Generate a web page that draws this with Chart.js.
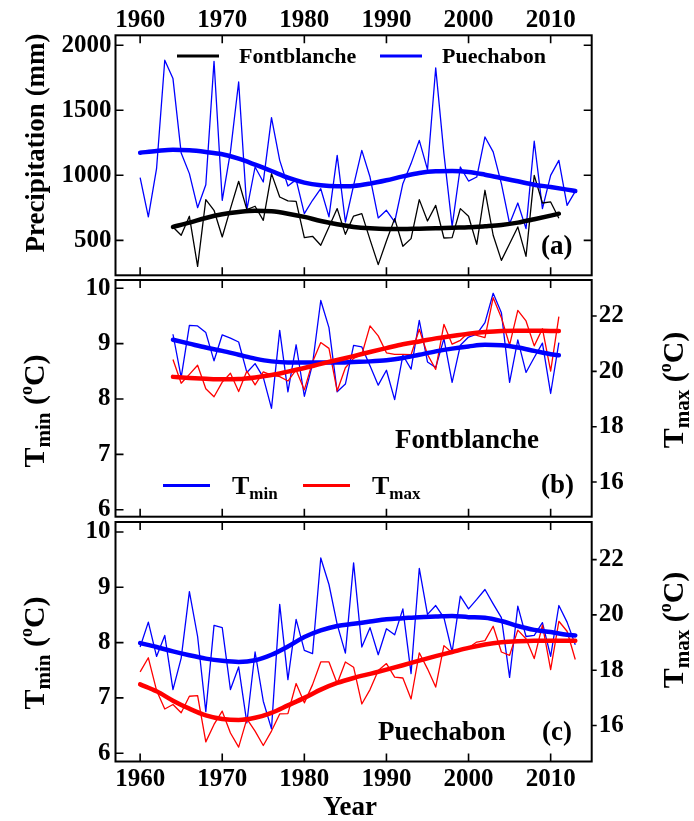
<!DOCTYPE html>
<html>
<head>
<meta charset="utf-8">
<script src="https://cdn.jsdelivr.net/npm/chart.js@4.4.0/dist/chart.umd.min.js"></script>
<style>
  body { margin: 0; background: #fff; }
  #wrap { position: relative; width: 694px; height: 821px; }
  canvas { position: absolute; left: 0; }
</style>
</head>
<body>
<div id="wrap">
  <canvas id="ca" width="694" height="278" style="top:0px"></canvas>
  <canvas id="cb" width="694" height="242" style="top:278px"></canvas>
  <canvas id="cc" width="694" height="301" style="top:520px"></canvas>
</div>
<script>
// axis ticks
const yearTicks = [1960, 1970, 1980, 1990, 2000, 2010];
const precipTicks = [500, 1000, 1500, 2000];
const tminTicks = [6, 7, 8, 9, 10];
const tmaxTicks = [16, 18, 20, 22];

// (a) annual precipitation, mm
const pueStart = 1960;   // Puechabon 1960-2013
const fontStart = 1964;  // Fontblanche 1964-2011
const precipPue = [982, 680, 1051, 1885, 1744, 1172, 1013, 751, 928, 1877,
  808, 1180, 1718, 736, 1064, 949, 1444, 1115, 918, 967,
  705, 808, 897, 680, 1154, 641, 923, 1192, 987, 672,
  731, 641, 936, 1090, 1269, 1044, 1826, 1167, 608, 1064,
  956, 987, 1295, 1180, 936, 628, 787, 590, 1262, 744,
  1000, 1115, 769, 877];
const precipFont = [603, 539, 685, 300, 813, 731,
  526, 744, 954, 736, 762, 654, 1013, 833, 803, 800,
  521, 531, 462, 603, 744, 546, 687, 705, 505, 313,
  495, 667, 454, 513, 813, 649, 769, 518, 521, 744,
  685, 469, 885, 539, 346, 474, 603, 377, 1000, 787,
  795, 670];

// smoothed curves (read every 2 years)
const smoothPueYears = [1960, 1962, 1964, 1966, 1968, 1970, 1972, 1974, 1976, 1978,
  1980, 1982, 1984, 1986, 1988, 1990, 1992, 1994, 1996, 1998,
  2000, 2002, 2004, 2006, 2008, 2010, 2012, 2013];
const smoothFontYears = [1964, 1966, 1968, 1970, 1972, 1974, 1976, 1978,
  1980, 1982, 1984, 1986, 1988, 1990, 1992, 1994, 1996, 1998,
  2000, 2002, 2004, 2006, 2008, 2010, 2011];
const precipPueSmooth = [1174, 1187, 1197, 1192, 1179, 1162, 1128, 1082, 1033, 982,
  944, 923, 915, 918, 936, 962, 992, 1018, 1031, 1033,
  1026, 1005, 980, 954, 928, 910, 890, 879];
const precipFontSmooth = [603, 636, 672, 700, 718, 728, 723, 705,
  680, 649, 623, 603, 592, 587, 587, 590, 592, 597,
  600, 608, 618, 636, 662, 690, 705];

// (b) Fontblanche temperatures, degC
const tminFont = [9.17, 8.39, 9.33, 9.32, 9.20, 8.69,
  9.16, 9.10, 9.03, 8.48, 8.64, 8.39, 7.83, 9.24, 8.13, 8.98,
  8.05, 8.63, 9.78, 9.29, 8.13, 8.27, 8.97, 8.94, 8.60, 8.25,
  8.52, 7.99, 8.79, 8.54, 9.42, 8.67, 8.57, 9.09, 8.30, 8.97,
  9.12, 9.17, 9.38, 9.91, 9.56, 8.30, 9.07, 8.48, 8.75, 9.01,
  8.10, 9.02];
const tmaxFont = [20.43, 19.57, 19.89, 20.22, 19.37, 19.08,
  19.61, 19.93, 19.27, 20.01, 19.51, 19.98, 19.86, 19.81, 19.65, 20.05,
  19.33, 20.34, 21.04, 20.83, 19.29, 20.13, 20.47, 20.61, 21.64, 21.28,
  20.67, 20.61, 20.61, 20.60, 21.52, 20.61, 20.07, 21.70, 20.98, 21.12,
  21.40, 21.30, 21.22, 22.66, 21.94, 20.95, 22.20, 21.82, 20.92, 21.54,
  20.01, 21.98];
const tminFontSmooth = [9.07, 9.00, 8.93, 8.87, 8.80, 8.73, 8.68, 8.66,
  8.66, 8.66, 8.66, 8.67, 8.68, 8.70, 8.74, 8.80, 8.86, 8.91,
  8.95, 8.98, 8.97, 8.93, 8.87, 8.81, 8.79];
const tmaxFontSmooth = [19.80, 19.76, 19.73, 19.71, 19.72, 19.78, 19.87, 19.99,
  20.12, 20.27, 20.41, 20.55, 20.70, 20.84, 20.98, 21.08, 21.19, 21.28,
  21.36, 21.42, 21.46, 21.47, 21.47, 21.46, 21.46];

// (c) Puechabon temperatures, degC
const tminPue = [7.92, 8.37, 7.75, 8.13, 7.15, 7.72, 8.92, 8.11, 6.75, 8.31,
  8.27, 7.15, 7.56, 6.55, 7.83, 6.94, 6.44, 8.69, 7.33, 8.42,
  7.86, 7.80, 9.53, 9.05, 8.33, 7.81, 9.44, 7.92, 8.27, 7.78,
  8.25, 8.14, 8.61, 7.44, 9.34, 8.51, 8.67, 8.45, 7.83, 8.84,
  8.61, 8.78, 8.96, 8.70, 8.45, 7.37, 8.66, 8.11, 8.13, 8.36,
  7.75, 8.67, 8.37, 7.96];
const tmaxPue = [17.94, 18.45, 17.27, 16.60, 16.76, 16.46, 17.06, 17.08, 15.41, 16.04,
  16.52, 15.73, 15.22, 16.24, 15.80, 15.28, 15.80, 16.42, 16.43, 17.52,
  16.82, 17.48, 18.30, 18.30, 17.52, 18.30, 18.11, 16.78, 17.30, 17.99,
  18.24, 17.75, 17.72, 16.96, 18.63, 18.05, 17.39, 18.89, 18.63, 18.71,
  18.81, 19.02, 19.07, 19.59, 18.66, 18.54, 19.45, 19.14, 18.42, 19.63,
  18.02, 19.77, 19.41, 18.39];
const tminPueSmooth = [7.99, 7.92, 7.84, 7.77, 7.71, 7.67, 7.65, 7.68, 7.78, 7.93,
  8.10, 8.22, 8.30, 8.34, 8.38, 8.42, 8.44, 8.46, 8.47, 8.48,
  8.46, 8.45, 8.39, 8.30, 8.23, 8.19, 8.14, 8.13];
const tmaxPueSmooth = [17.49, 17.24, 16.90, 16.61, 16.37, 16.24, 16.20, 16.28, 16.46, 16.73,
  17.00, 17.30, 17.54, 17.72, 17.87, 18.02, 18.18, 18.35, 18.51, 18.66,
  18.81, 18.93, 19.01, 19.05, 19.07, 19.07, 19.07, 19.07];

const FONT = "'Liberation Serif', 'Times New Roman', serif";
const BLUE = '#0000ff', RED = '#ff0000', BLACK = '#000000';
Chart.defaults.font.family = FONT;
Chart.defaults.font.weight = 'bold';
Chart.defaults.color = '#000';

function series(start, vals) { return vals.map((v, i) => ({ x: start + i, y: v })); }
function pairs(xs, vals) { return vals.map((v, i) => ({ x: xs[i], y: v })); }

function thin(data, color, axis, order) {
  return { data, borderColor: color, borderWidth: 1.3, pointRadius: 0, tension: 0,
    yAxisID: axis, order, borderJoinStyle: 'round' };
}
function thick(data, color, axis, order) {
  return { data, borderColor: color, borderWidth: 4.5, pointRadius: 0,
    cubicInterpolationMode: 'monotone', yAxisID: axis, order, borderCapStyle: 'round' };
}

// fixed axis sizes, no label overflow padding
function noPad(s) { s.paddingTop = 0; s.paddingBottom = 0; s.paddingLeft = 0; s.paddingRight = 0; }

function xAxis(show, pos, h, pad) {
  return {
    type: 'linear', min: 1957, max: 2015, position: pos, display: show,
    grid: { display: false, drawTicks: false }, border: { display: false },
    afterBuildTicks: s => { s.ticks = yearTicks.map(v => ({ value: v })); },
    afterFit: s => { s.height = h; noPad(s); },
    ticks: { font: { size: 25, weight: 'bold' }, padding: pad, maxRotation: 0,
      autoSkip: false, callback: v => String(v) }
  };
}
function yAxis(pos, min, max, ticks, width, pad) {
  return {
    type: 'linear', position: pos, min, max,
    grid: { display: false, drawTicks: false }, border: { display: false },
    afterBuildTicks: s => { s.ticks = ticks.map(v => ({ value: v })); },
    afterFit: s => { s.width = width; noPad(s); },
    ticks: { font: { size: 25, weight: 'bold' }, padding: pad, callback: v => String(v) }
  };
}

// text with sub/superscripts; y is the baseline
function rich(ctx, parts, x, y, align, rot) {
  ctx.save();
  ctx.translate(x, y);
  if (rot) ctx.rotate(rot);
  let w = 0;
  parts.forEach(p => { ctx.font = `bold ${p.size}px ${FONT}`; p.w = ctx.measureText(p.t).width; w += p.w; });
  let cx = align === 'center' ? -w / 2 : 0;
  ctx.textAlign = 'left';
  ctx.textBaseline = 'alphabetic';
  ctx.fillStyle = '#000';
  parts.forEach(p => { ctx.font = `bold ${p.size}px ${FONT}`; ctx.fillText(p.t, cx, p.dy || 0); cx += p.w; });
  ctx.restore();
}
function text(ctx, s, x, y, size, align) {
  ctx.font = `bold ${size}px ${FONT}`;
  ctx.fillStyle = '#000';
  ctx.textAlign = align || 'left';
  ctx.textBaseline = 'middle';
  ctx.fillText(s, x, y);
}
function legendLine(ctx, color, x1, x2, y) {
  ctx.strokeStyle = color;
  ctx.lineWidth = 3;
  ctx.beginPath(); ctx.moveTo(x1, y); ctx.lineTo(x2, y); ctx.stroke();
}
const tTitle = sub => [
  { t: 'T', size: 30 }, { t: sub, size: 21, dy: 6 }, { t: ' (', size: 30 },
  { t: 'o', size: 18, dy: -12 }, { t: 'C)', size: 30 }];
const tLegend = sub => [{ t: 'T', size: 26 }, { t: sub, size: 17, dy: 5 }];

function frame(leftTicks, mirrorLeft, drawTexts) {
  return {
    id: 'frame',
    afterDraw(chart) {
      const { ctx, chartArea: a, scales } = chart;
      ctx.save();
      ctx.strokeStyle = '#000';
      ctx.lineWidth = 1.6;
      ctx.beginPath();
      yearTicks.forEach(v => {
        const x = scales.x.getPixelForValue(v);
        ctx.moveTo(x, a.top); ctx.lineTo(x, a.top + 8);
        ctx.moveTo(x, a.bottom); ctx.lineTo(x, a.bottom - 8);
      });
      leftTicks.forEach(v => {
        const y = scales.y.getPixelForValue(v);
        ctx.moveTo(a.left, y); ctx.lineTo(a.left + 8, y);
        if (mirrorLeft) { ctx.moveTo(a.right, y); ctx.lineTo(a.right - 8, y); }
      });
      if (scales.y2) tmaxTicks.forEach(v => {
        const y = scales.y2.getPixelForValue(v);
        ctx.moveTo(a.right, y); ctx.lineTo(a.right + 5, y);
      });
      ctx.stroke();
      ctx.lineWidth = 2;
      ctx.strokeRect(a.left, a.top, a.right - a.left, a.bottom - a.top);
      drawTexts(ctx, a);
      ctx.restore();
    }
  };
}

const common = {
  responsive: false, animation: false, devicePixelRatio: 1,
  plugins: { legend: { display: false }, tooltip: { enabled: false } }
};

// (a) precipitation
new Chart(document.getElementById('ca'), {
  type: 'line',
  data: { datasets: [
    thick(pairs(smoothPueYears, precipPueSmooth), BLUE, 'y', 0),
    thick(pairs(smoothFontYears, precipFontSmooth), BLACK, 'y', 1),
    thin(series(fontStart, precipFont), BLACK, 'y', 2),
    thin(series(pueStart, precipPue), BLUE, 'y', 3)
  ] },
  options: Object.assign({}, common, {
    layout: { autoPadding: false, padding: { left: 0, right: 102.3, top: 0, bottom: 2.7 } },
    scales: {
      x: xAxis(true, 'top', 35.3, 0),
      y: yAxis('left', 231, 2077, precipTicks, 115.5, 4)
    }
  }),
  plugins: [frame(precipTicks, true, (ctx, a) => {
    ctx.save();
    ctx.translate(37, 143);
    ctx.rotate(-Math.PI / 2);
    text(ctx, 'Precipitation (mm)', 0, 0, 27, 'center');
    ctx.restore();
    legendLine(ctx, BLACK, 177, 219, 56);
    text(ctx, 'Fontblanche', 239, 57, 22);
    legendLine(ctx, BLUE, 380, 422, 56);
    text(ctx, 'Puechabon', 442, 57, 22);
    text(ctx, '(a)', 541, 247, 27);
  })]
});

// (b) Fontblanche temperatures
new Chart(document.getElementById('cb'), {
  type: 'line',
  data: { datasets: [
    thick(pairs(smoothFontYears, tmaxFontSmooth), RED, 'y2', 0),
    thick(pairs(smoothFontYears, tminFontSmooth), BLUE, 'y', 1),
    thin(series(fontStart, tmaxFont), RED, 'y2', 2),
    thin(series(fontStart, tminFont), BLUE, 'y', 3)
  ] },
  options: Object.assign({}, common, {
    layout: { autoPadding: false, padding: { left: 0, right: 0, top: 2, bottom: 3.3 } },
    scales: {
      x: xAxis(false, 'bottom', 0, 0),
      y: yAxis('left', 5.874, 10.15, tminTicks, 115.5, 5),
      y2: yAxis('right', 14.748, 23.30, tmaxTicks, 102.3, 7)
    }
  }),
  plugins: [frame(tminTicks, false, (ctx, a) => {
    rich(ctx, tTitle('min'), 44, 133, 'center', -Math.PI / 2);
    rich(ctx, tTitle('max'), 683, 112, 'center', -Math.PI / 2);
    text(ctx, 'Fontblanche', 395, 163, 27);
    legendLine(ctx, BLUE, 163, 210, 207.5);
    rich(ctx, tLegend('min'), 232, 216, 'left');
    legendLine(ctx, RED, 303, 350, 207.5);
    rich(ctx, tLegend('max'), 372, 216, 'left');
    text(ctx, '(b)', 541, 208, 27);
  })]
});

// (c) Puechabon temperatures
new Chart(document.getElementById('cc'), {
  type: 'line',
  data: { datasets: [
    thick(pairs(smoothPueYears, tmaxPueSmooth), RED, 'y2', 0),
    thick(pairs(smoothPueYears, tminPueSmooth), BLUE, 'y', 1),
    thin(series(pueStart, tmaxPue), RED, 'y2', 2),
    thin(series(pueStart, tminPue), BLUE, 'y', 3)
  ] },
  options: Object.assign({}, common, {
    layout: { autoPadding: false, padding: { left: 0, right: 0, top: 2, bottom: 0 } },
    scales: {
      x: xAxis(true, 'bottom', 59.5, 3.5),
      y: yAxis('left', 5.85, 10.18, tminTicks, 115.5, 5),
      y2: yAxis('right', 14.70, 23.36, tmaxTicks, 102.3, 7)
    }
  }),
  plugins: [frame(tminTicks, false, (ctx, a) => {
    rich(ctx, tTitle('min'), 44, 133, 'center', -Math.PI / 2);
    rich(ctx, tTitle('max'), 683, 110, 'center', -Math.PI / 2);
    text(ctx, 'Puechabon', 378, 213, 27);
    text(ctx, '(c)', 542, 213, 27);
    text(ctx, 'Year', 350, 288, 27, 'center');
  })]
});
</script>
</body>
</html>
